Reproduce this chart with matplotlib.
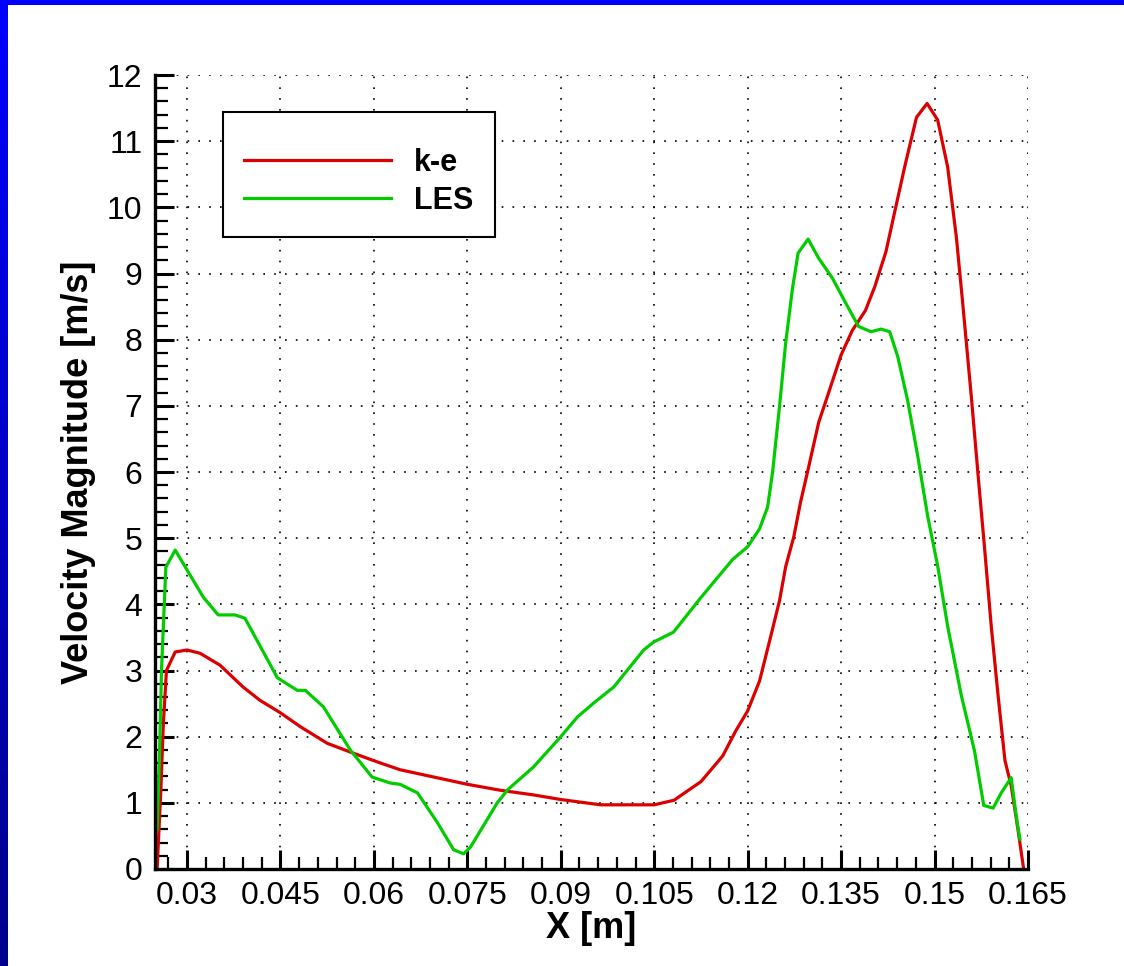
import numpy as np
import matplotlib
matplotlib.use("Agg")
import matplotlib.pyplot as plt
from matplotlib.ticker import MultipleLocator, FixedLocator, FixedFormatter

plt.rcParams['font.family'] = ['Liberation Sans', 'DejaVu Sans']

# k-e profile (red)
ke_x = [0.0252, 0.0258, 0.0262, 0.0267, 0.0272, 0.0281, 0.0300, 0.0321, 0.0353, 0.0390,
        0.0417, 0.0450, 0.0482, 0.0525, 0.0567, 0.0605, 0.0642, 0.0696, 0.0750, 0.0803,
        0.0856, 0.0900, 0.0964, 0.1050, 0.1082, 0.1091, 0.1125, 0.1160, 0.1181, 0.1200,
        0.1219, 0.1235, 0.1251, 0.1261, 0.1274, 0.1285, 0.1298, 0.1314, 0.1330, 0.1350,
        0.1368, 0.1389, 0.1404, 0.1422, 0.1436, 0.1452, 0.1471, 0.1488, 0.1505, 0.1521,
        0.1535, 0.1545, 0.1559, 0.1570, 0.1580, 0.1591, 0.1602, 0.1613, 0.1623, 0.1634,
        0.1643]
ke_v = [0.00, 1.20, 2.20, 3.00, 3.10, 3.28, 3.31, 3.26, 3.08, 2.75,
        2.55, 2.36, 2.15, 1.90, 1.75, 1.62, 1.50, 1.39, 1.28, 1.19,
        1.12, 1.05, 0.97, 0.97, 1.04, 1.10, 1.32, 1.71, 2.09, 2.39,
        2.84, 3.44, 4.05, 4.57, 5.02, 5.55, 6.08, 6.75, 7.20, 7.77,
        8.14, 8.44, 8.80, 9.33, 9.93, 10.61, 11.36, 11.57, 11.32, 10.61,
        9.55, 8.57, 7.14, 5.94, 4.88, 3.67, 2.62, 1.64, 1.26, 0.59,
        0.00]

# LES profile (green)
les_x = [0.0252, 0.0256, 0.0259, 0.0266, 0.0281, 0.0326, 0.0350, 0.0377, 0.0393, 0.0445,
         0.0477, 0.0490, 0.0519, 0.0562, 0.0597, 0.0626, 0.0642, 0.0670, 0.0702, 0.0728,
         0.0744, 0.0755, 0.0798, 0.0815, 0.0856, 0.0900, 0.0927, 0.0953, 0.0985, 0.1033,
         0.1049, 0.1081, 0.1123, 0.1176, 0.1200, 0.1219, 0.1232, 0.1240, 0.1251, 0.1261,
         0.1272, 0.1281, 0.1297, 0.1314, 0.1336, 0.1357, 0.1378, 0.1398, 0.1414, 0.1428,
         0.1441, 0.1457, 0.1473, 0.1489, 0.1505, 0.1521, 0.1543, 0.1564, 0.1579, 0.1594,
         0.1607, 0.1623, 0.1631, 0.1637]
les_v = [0.60, 1.80, 3.00, 4.56, 4.82, 4.11, 3.84, 3.84, 3.79, 2.89,
         2.70, 2.70, 2.45, 1.80, 1.39, 1.30, 1.28, 1.15, 0.70, 0.29,
         0.23, 0.33, 1.00, 1.20, 1.54, 2.00, 2.30, 2.51, 2.75, 3.31,
         3.43, 3.58, 4.08, 4.68, 4.87, 5.14, 5.47, 6.00, 6.98, 7.95,
         8.78, 9.31, 9.52, 9.23, 8.93, 8.56, 8.20, 8.12, 8.16, 8.12,
         7.74, 7.07, 6.24, 5.33, 4.58, 3.67, 2.62, 1.79, 0.96, 0.92,
         1.15, 1.38, 0.81, 0.45]

x_ticks = [0.03, 0.045, 0.06, 0.075, 0.09, 0.105, 0.12, 0.135, 0.15, 0.165]
x_labels = ['0.03', '0.045', '0.06', '0.075', '0.09', '0.105', '0.12', '0.135', '0.15', '0.165']
y_ticks = list(range(0, 13))

W, H = 1124, 966
fig = plt.figure(figsize=(W / 100, H / 100), dpi=100, facecolor='white')

# blue slide border (left gradient strip + top strip)
bl = fig.add_axes([0, 0, 8 / W, 1])
grad = np.linspace(0, 1, 256).reshape(-1, 1)
bl.imshow(np.dstack([np.zeros_like(grad), np.zeros_like(grad), 0.55 + 0.45 * grad]),
          aspect='auto', origin='lower', extent=[0, 1, 0, 1])
bl.axis('off')
bt = fig.add_axes([0, 1 - 5 / H, 1, 5 / H])
bt.set_facecolor((0, 0, 1))
bt.set_xticks([]); bt.set_yticks([])
for s in bt.spines.values():
    s.set_visible(False)

ax = fig.add_axes([155 / W, 1 - 869 / H, 873 / W, 794 / H])
ax.plot(ke_x, ke_v, color='#dd0000', lw=2.3, label='k-e')
ax.plot(les_x, les_v, color='#00cc00', lw=2.3, label='LES')

ax.set_xlim(0.02486, 0.165)
ax.set_ylim(0, 12)

ax.xaxis.set_major_locator(FixedLocator(x_ticks))
ax.xaxis.set_major_formatter(FixedFormatter(x_labels))
ax.xaxis.set_minor_locator(MultipleLocator(0.003))
ax.yaxis.set_major_locator(FixedLocator(y_ticks))
ax.yaxis.set_minor_locator(MultipleLocator(0.2))

ax.tick_params(which='both', direction='in', top=False, right=False)
ax.tick_params(which='major', length=14, width=2.2, labelsize=23, pad=9)
ax.tick_params(which='minor', length=9, width=1.6)

for side in ('top', 'right'):
    ax.spines[side].set_visible(False)
for side in ('left', 'bottom'):
    ax.spines[side].set_linewidth(2.4)

ax.grid(True, which='major', color='black', linestyle=(0, (1, 5.5)), linewidth=1.2)

ax.set_xlabel('X [m]', fontsize=26, fontweight='bold', labelpad=0)
ax.set_ylabel('Velocity Magnitude [m/s]', fontsize=26, fontweight='bold', labelpad=8)

leg = ax.legend(loc='upper left', bbox_to_anchor=(0.0779, 0.9534), borderaxespad=0,
                fancybox=False, framealpha=1, edgecolor='black',
                prop={'size': 22, 'weight': 'bold'},
                title=' ', title_fontsize=6,
                handlelength=4.8, handletextpad=0.75, labelspacing=0.25, borderpad=0.7)
leg.get_frame().set_linewidth(1.5)

fig.savefig('out.png', dpi=100, facecolor='white')
